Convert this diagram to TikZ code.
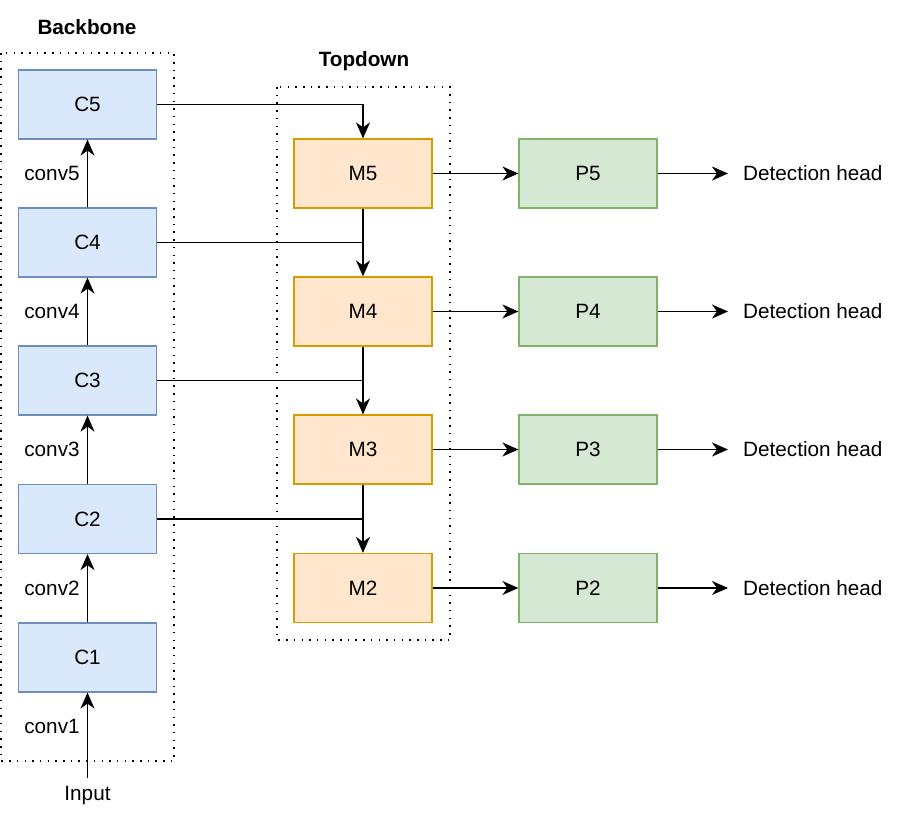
\documentclass[tikz,border=0pt]{standalone}
\usepackage{fontspec}
\setmainfont{Liberation Sans}
\usetikzlibrary{arrows.meta}
\begin{document}
\begin{tikzpicture}[x=1pt,y=-1pt,
  box/.style={draw, line width=1.2pt, minimum width=138pt, minimum height=69pt, inner sep=0pt, font=\fontsize{20.7}{24}\selectfont},
  cbox/.style={box, fill=cfill, draw=cdraw},
  mbox/.style={box, fill=mfill, draw=mdraw},
  pbox/.style={box, fill=pfill, draw=pdraw},
  lbl/.style={font=\fontsize{20.7}{24}\selectfont, inner sep=0pt},
  ttl/.style={font=\bfseries\fontsize{20.7}{24}\selectfont, inner sep=0pt},
  group/.style={draw, line width=1.5pt, dash pattern=on 1.5pt off 6.2pt},
  conn/.style={draw, line width=1.6pt},
  arr/.style={conn, -{Stealth[length=16pt,width=14pt,inset=5pt]}}
]
\definecolor{cfill}{HTML}{DAE8FC}\definecolor{cdraw}{HTML}{6C8EBF}
\definecolor{mfill}{HTML}{FFE6CC}\definecolor{mdraw}{HTML}{D79B00}
\definecolor{pfill}{HTML}{D5E8D4}\definecolor{pdraw}{HTML}{82B366}
\useasboundingbox (0,0) rectangle (900,814);

\draw[group] (1,53) rectangle (174,761);
\draw[group] (277,87) rectangle (450,640);
\node[ttl] (tb) at (87,27) {Backbone};
\node[ttl] (tt) at (364,61) {Topdown};

\node[cbox] (C5) at (87.5,104.5) {C5};
\node[cbox] (C4) at (87.5,242.5) {C4};
\node[cbox] (C3) at (87.5,380.5) {C3};
\node[cbox] (C2) at (87.5,519) {C2};
\node[cbox] (C1) at (87.5,657.5) {C1};

\node[mbox] (M5) at (363,173.5) {M5};
\node[mbox] (M4) at (363,311.5) {M4};
\node[mbox] (M3) at (363,449.5) {M3};
\node[mbox] (M2) at (363,588) {M2};

\node[pbox] (P5) at (588,173.5) {P5};
\node[pbox] (P4) at (588,311.5) {P4};
\node[pbox] (P3) at (588,449.5) {P3};
\node[pbox] (P2) at (588,588) {P2};

\node[lbl, anchor=west] (D5) at (743,173.5) {Detection head};
\node[lbl, anchor=west] (D4) at (743,311.5) {Detection head};
\node[lbl, anchor=west] (D3) at (743,449.5) {Detection head};
\node[lbl, anchor=west] (D2) at (743,588) {Detection head};

\node[lbl] (k5) at (52,173.5) {conv5};
\node[lbl] (k4) at (52,311.5) {conv4};
\node[lbl] (k3) at (52,449.5) {conv3};
\node[lbl] (k2) at (52,588) {conv2};
\node[lbl] (k1) at (52,726) {conv1};

\node[lbl] (in) at (87.5,796) {Input};
\coordinate (inTop) at (87.5,778);

% backbone arrows
\draw[arr] (inTop) -- (C1.south);
\draw[arr] (C1.north) -- (C2.south);
\draw[arr] (C2.north) -- (C3.south);
\draw[arr] (C3.north) -- (C4.south);
\draw[arr] (C4.north) -- (C5.south);

% lateral
\draw[arr] (C5.east) -| (M5.north);
\draw[conn] (C4.east) -- (C4.east -| M5.south);
\draw[conn] (C3.east) -- (C3.east -| M5.south);
\draw[conn] (C2.east) -- (C2.east -| M5.south);

% topdown
\draw[arr] (M5.south) -- (M4.north);
\draw[arr] (M4.south) -- (M3.north);
\draw[arr] (M3.south) -- (M2.north);

% M to P
\draw[arr] (M5.east) -- (P5.west);
\draw[arr] (M4.east) -- (P4.west);
\draw[arr] (M3.east) -- (P3.west);
\draw[arr] (M2.east) -- (P2.west);

% P to heads
\draw[arr] (P5.east) -- ([xshift=-15pt]D5.west);
\draw[arr] (P4.east) -- ([xshift=-15pt]D4.west);
\draw[arr] (P3.east) -- ([xshift=-15pt]D3.west);
\draw[arr] (P2.east) -- ([xshift=-15pt]D2.west);
\end{tikzpicture}
\end{document}
